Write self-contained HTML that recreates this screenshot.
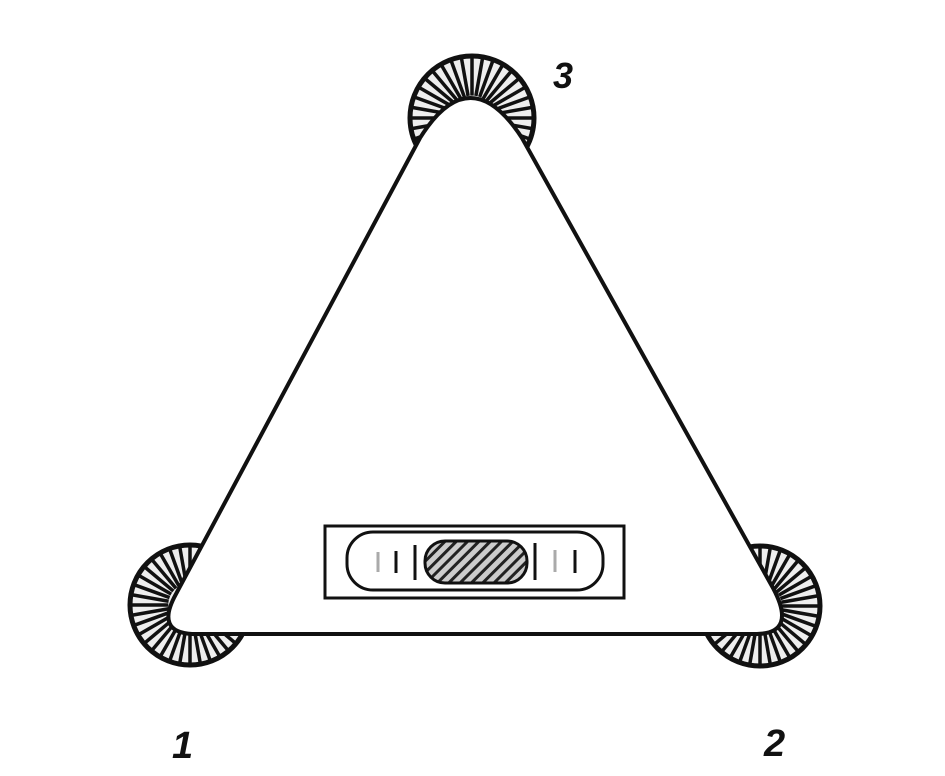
<!DOCTYPE html>
<html><head><meta charset="utf-8"><style>
html,body{margin:0;padding:0;background:#fff;width:945px;height:776px;overflow:hidden}
svg{display:block}
text{font-family:"Liberation Sans",sans-serif;font-style:italic;font-weight:bold;fill:#111}
</style></head><body>
<svg id="s" width="945" height="776" viewBox="0 0 945 776">
<defs>
<pattern id="hatch" width="8" height="8" patternUnits="userSpaceOnUse" patternTransform="rotate(45)">
<rect width="8" height="8" fill="#ccc"/><rect width="3" height="8" fill="#222"/>
</pattern>
</defs>
<g id="knobs"></g>
<path d="M 420,138 Q 470,58 522,138 L 773,588 Q 797,633 757,634 L 192,634 Q 155,632 176,594 Z" fill="#fff" stroke="#111" stroke-width="4"/>
<g>
<rect x="325" y="526" width="299" height="72" fill="#fff" stroke="#111" stroke-width="3"/>
<rect x="347" y="532" width="256" height="58" rx="26" fill="#fff" stroke="#111" stroke-width="3"/>
<rect x="425" y="541" width="102" height="42" rx="20" fill="url(#hatch)" stroke="#111" stroke-width="3"/>
<line x1="378" y1="552" x2="378" y2="572" stroke="#aaa" stroke-width="3"/>
<line x1="396" y1="551" x2="396" y2="573" stroke="#111" stroke-width="3"/>
<line x1="415" y1="545" x2="415" y2="580" stroke="#111" stroke-width="3"/>
<line x1="535" y1="543" x2="535" y2="580" stroke="#111" stroke-width="3"/>
<line x1="555" y1="550" x2="555" y2="572" stroke="#aaa" stroke-width="3"/>
<line x1="575" y1="550" x2="575" y2="573" stroke="#111" stroke-width="3"/>
</g>
<text x="553" y="88" font-size="36">3</text>
<text x="172" y="758" font-size="38">1</text>
<text x="764" y="756" font-size="38">2</text>
</svg>
<script>
const knobs=[[472,118,64],[190,605,62],[760,606,62]];
const g=document.getElementById('knobs');
const NS='http://www.w3.org/2000/svg';
knobs.forEach(function(k,i){
  const grp=document.createElementNS(NS,'g');
  
  
  const c=document.createElementNS(NS,'circle');
  c.setAttribute('cx',k[0]);c.setAttribute('cy',k[1]);c.setAttribute('r',k[2]-2);
  c.setAttribute('fill','#eee');c.setAttribute('stroke','#111');c.setAttribute('stroke-width','5');
  grp.appendChild(c);
  for(let a=0;a<360;a+=10){
    const r=a*Math.PI/180;
    const l=document.createElementNS(NS,'line');
    l.setAttribute('x1',k[0]+Math.cos(r)*k[2]*0.35);l.setAttribute('y1',k[1]+Math.sin(r)*k[2]*0.35);
    l.setAttribute('x2',k[0]+Math.cos(r)*k[2]);l.setAttribute('y2',k[1]+Math.sin(r)*k[2]);
    l.setAttribute('stroke','#111');l.setAttribute('stroke-width','3.5');
    grp.appendChild(l);
  }
  g.appendChild(grp);
});
</script>
</body></html>
